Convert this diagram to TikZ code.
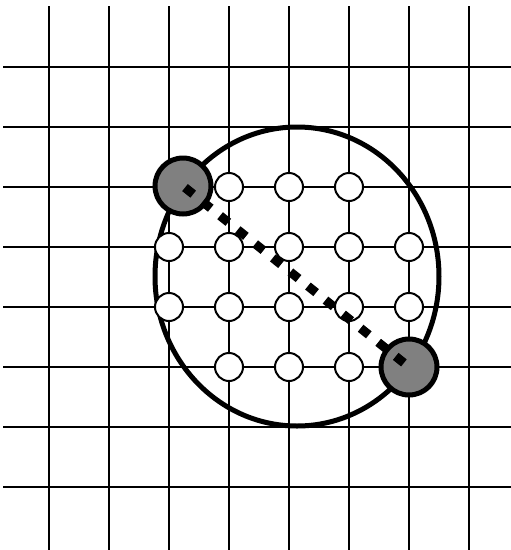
\documentclass[tikz,border=0pt]{standalone}
\usetikzlibrary{shapes.geometric}
\begin{document}
\begin{tikzpicture}[x=1pt,y=-1pt,
  gridline/.style={line width=2pt,black},
  bigring/.style={draw,ellipse,line width=5pt,minimum width=284pt,minimum height=299pt,inner sep=0pt},
  site/.style={draw,circle,fill=white,line width=2pt,minimum size=28pt,inner sep=0pt},
  atom/.style={draw,circle,fill=black!50,line width=5pt,minimum size=56pt,inner sep=0pt},
  hop/.style={line width=9pt,dash pattern=on 10.5pt off 12pt,dash phase=19.95pt}]
\useasboundingbox (0,0) rectangle (511,550);
\fill[white] (0,0) rectangle (511,550);
\foreach \x in {49,109,169,229,289,349,409,469}
  \draw[gridline] (\x,6) -- (\x,550);
\foreach \y in {67,127,187,247,307,367,427,487}
  \draw[gridline] (3,\y) -- (511,\y);
\node[bigring] (ring) at (297,276.5) {};
% sites
\node[site] (s11) at (229,187) {};
\node[site] (s12) at (289,187) {};
\node[site] (s13) at (349,187) {};
\node[site] (s20) at (169,247) {};
\node[site] (s21) at (229,247) {};
\node[site] (s22) at (289,247) {};
\node[site] (s23) at (349,247) {};
\node[site] (s24) at (409,247) {};
\node[site] (s30) at (169,307) {};
\node[site] (s31) at (229,307) {};
\node[site] (s32) at (289,307) {};
\node[site] (s33) at (349,307) {};
\node[site] (s34) at (409,307) {};
\node[site] (s41) at (229,367) {};
\node[site] (s42) at (289,367) {};
\node[site] (s43) at (349,367) {};
\node[atom] (g1) at (183,186) {};
\node[atom] (g2) at (409,367) {};
\draw[hop] (g1.center) -- (g2.center);
\end{tikzpicture}
\end{document}
